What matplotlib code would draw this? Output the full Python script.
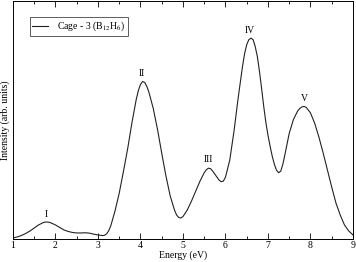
import matplotlib
matplotlib.use("Agg")
import matplotlib.pyplot as plt
from matplotlib.ticker import MultipleLocator

# energy grid (eV) and intensity (arb. units)
energy = [1.0, 1.1, 1.2, 1.3, 1.4, 1.5, 1.6, 1.7, 1.75, 1.8, 1.85, 1.9,
          2.0, 2.1, 2.2, 2.3, 2.4, 2.5, 2.6, 2.7, 2.8, 2.9,
          3.0, 3.1, 3.15, 3.2, 3.25, 3.3, 3.4, 3.5, 3.6, 3.7, 3.8, 3.9,
          3.95, 4.0, 4.05, 4.1, 4.15, 4.2, 4.3, 4.4, 4.5, 4.6, 4.7, 4.8,
          4.85, 4.9, 4.95, 5.0, 5.1, 5.2, 5.3, 5.4, 5.5, 5.55, 5.6, 5.65,
          5.7, 5.8, 5.85, 5.9, 5.95, 6.0, 6.1, 6.2, 6.3, 6.4, 6.45, 6.5,
          6.55, 6.6, 6.65, 6.7, 6.75, 6.8, 6.85, 6.9, 6.95, 7.0, 7.05, 7.1,
          7.15, 7.2, 7.25, 7.3, 7.35, 7.4, 7.5, 7.6, 7.7, 7.75, 7.8, 7.85,
          7.9, 8.0, 8.1, 8.2, 8.3, 8.4, 8.5, 8.6, 8.7, 8.8, 8.9, 9.0]
intensity = [1, 2, 3.5, 5.5, 8, 11, 14, 16.2, 16.9, 17, 16.7, 16,
             14, 11.5, 9, 7.5, 6.5, 6, 6, 6.2, 5.8, 4.8,
             4, 3.4, 3.6, 5, 8, 13, 28, 46, 68, 91, 117, 140,
             149, 155, 158, 157, 153, 147, 131, 110, 86, 63, 43, 29,
             24, 21.5, 21, 22.5, 29, 38, 48, 58, 66.5, 69.5, 71, 70.5,
             68, 62, 59, 57.5, 58, 62, 79, 108, 142, 173, 186, 195,
             200, 201.5, 200, 193, 183, 168, 151, 133, 117, 104, 93, 83,
             75, 69, 66.5, 68, 75, 85, 106, 120, 128.5, 131, 132.5, 133,
             132, 126.5, 116, 102, 86, 69, 52, 36, 24, 14, 8, 4]

# peak labels: position of each label
peak_names = ["I", "II", "III", "IV", "V"]
peak_e = [1.78, 4.04, 5.6, 6.58, 7.85]
peak_y = [20, 162, 75, 205, 136]

plt.rcParams['font.family'] = ['Liberation Serif', 'DejaVu Serif']
plt.rcParams['mathtext.fontset'] = 'stix'

fig = plt.figure(figsize=(3.56, 2.62), dpi=100)
ax = fig.add_axes([0.0365, 0.088, 0.955, 0.909])

ax.plot(energy, intensity, color='#222222', linewidth=0.8,
        label=r'Cage - 3 (B$_{12}$H$_6$)')

for name, e, y in zip(peak_names, peak_e, peak_y):
    ax.text(e, y, name, ha='center', va='bottom', fontsize=7)

ax.set_xlim(1, 9)
ax.set_ylim(0, 239)
ax.xaxis.set_major_locator(MultipleLocator(1))
ax.xaxis.set_minor_locator(MultipleLocator(0.5))
ax.tick_params(axis='x', which='both', direction='in', top=True,
               labelsize=7, pad=1.5, width=0.6)
ax.tick_params(axis='x', which='major', length=4)
ax.tick_params(axis='x', which='minor', length=2.5)
ax.set_yticks([])
for s in ax.spines.values():
    s.set_linewidth(0.7)

ax.set_xlabel('Energy (eV)', fontsize=7, labelpad=0)
ax.set_ylabel('Intensity (arb. units)', fontsize=7, labelpad=2)

leg = ax.legend(loc='upper left', bbox_to_anchor=(0.05, 0.93), fontsize=7,
                frameon=True, fancybox=False, edgecolor='#333333',
                handlelength=1.6, borderpad=0.25, handletextpad=0.9,
                borderaxespad=0)
leg.get_frame().set_linewidth(0.7)

fig.savefig('out.png', dpi=100)
